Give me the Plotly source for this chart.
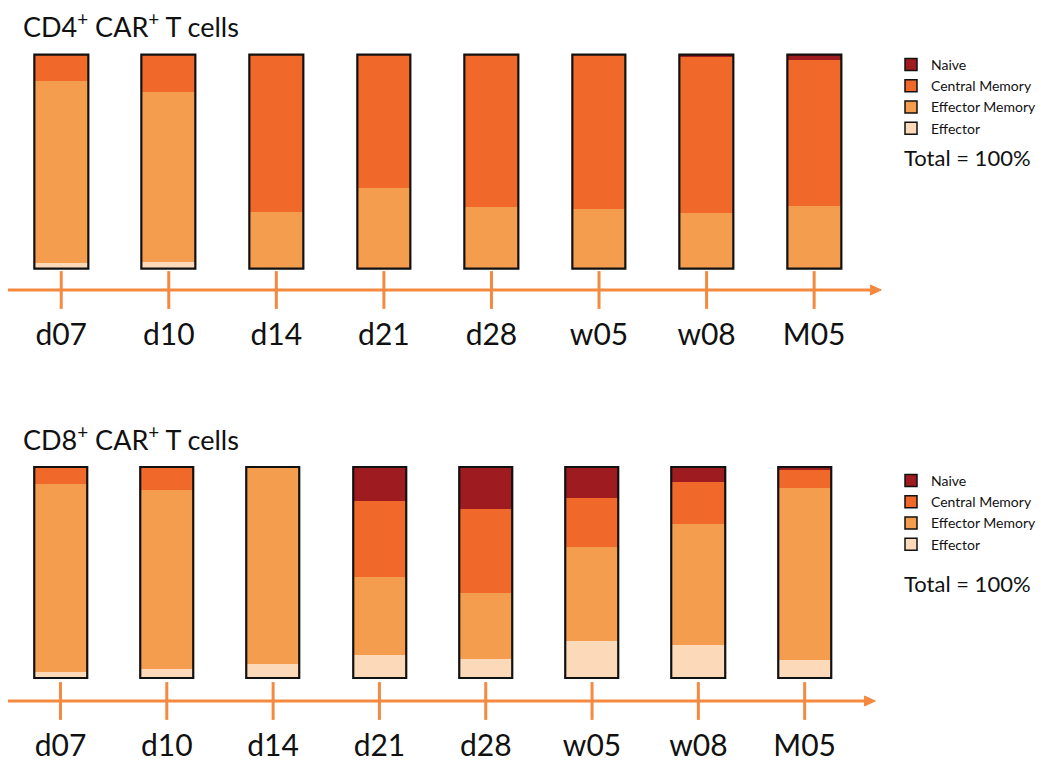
import numpy as np
import plotly.graph_objects as go

# ---------------- data ----------------
timepoints = ["d07", "d10", "d14", "d21", "d28", "w05", "w08", "M05"]
subsets = ["Naive", "Central Memory", "Effector Memory", "Effector"]

cd4_naive = [0, 0, 0, 0, 0, 0, 0.5, 2]
cd4_cm = [12, 17, 73.5, 62, 71, 72, 73.5, 68.5]
cd4_em = [85, 79.5, 26.5, 38, 29, 28, 26, 29.5]
cd4_eff = [3, 3.5, 0, 0, 0, 0, 0, 0]

cd8_naive = [0, 0, 0, 16, 20, 14.5, 7, 1.5]
cd8_cm = [8, 11, 0, 36, 39.5, 23.5, 20, 8.5]
cd8_em = [89, 84.5, 93, 37, 31.5, 44.5, 57, 81.5]
cd8_eff = [3, 4.5, 7, 11, 9, 17.5, 16, 8.5]

titles = ["CD4<sup>+</sup> CAR<sup>+</sup> T cells", "CD8<sup>+</sup> CAR<sup>+</sup> T cells"]
total_label = "Total = 100%"

# ---------------- style ----------------
colors = {
    "Naive": "#9E1B20",
    "Central Memory": "#F0692A",
    "Effector Memory": "#F59D4E",
    "Effector": "#FCD9B8",
}
axis_orange = "#F4893F"
FONT = "Lato"
W, H = 1041, 761


def py(px):
    return 1 - px / H


def pxx(px):
    return px / W


fig = go.Figure()

panels = [
    dict(vals={"Naive": cd4_naive, "Central Memory": cd4_cm, "Effector Memory": cd4_em, "Effector": cd4_eff},
         xa="x", ya="y", xa_ax="x3", ya_ax="y3", legend="legend"),
    dict(vals={"Naive": cd8_naive, "Central Memory": cd8_cm, "Effector Memory": cd8_em, "Effector": cd8_eff},
         xa="x2", ya="y2", xa_ax="x4", ya_ax="y4", legend="legend2"),
]

stack_order = ["Effector", "Effector Memory", "Central Memory", "Naive"]  # bottom to top

for p in panels:
    base = np.zeros(len(timepoints))
    for s in stack_order:
        v = np.array(p["vals"][s], dtype=float)
        fig.add_trace(go.Bar(
            x=timepoints, y=v, base=base, name=s, width=0.5,
            marker=dict(color=colors[s], line=dict(width=0)),
            xaxis=p["xa"], yaxis=p["ya"], showlegend=False, hoverinfo="skip",
        ))
        base = base + v
    # outline of whole stacked bar
    fig.add_trace(go.Bar(
        x=timepoints, y=base, base=np.zeros(len(timepoints)), width=0.5,
        marker=dict(color="rgba(0,0,0,0)", line=dict(color="#111111", width=2.2)),
        xaxis=p["xa"], yaxis=p["ya"], showlegend=False, hoverinfo="skip",
    ))
    # legend entries
    for s in subsets:
        fig.add_trace(go.Bar(
            x=[None], y=[None], name=s,
            marker=dict(color=colors[s], line=dict(color="#111111", width=1.5)),
            xaxis=p["xa"], yaxis=p["ya"], legend=p["legend"], showlegend=True,
        ))
    # timeline tick marks
    fig.add_trace(go.Scatter(
        x=timepoints, y=[0] * len(timepoints), mode="markers",
        marker=dict(symbol="line-ns", size=27, line=dict(color=axis_orange, width=3)),
        xaxis=p["xa_ax"], yaxis=p["ya_ax"], showlegend=False, hoverinfo="skip", cliponaxis=False,
    ))

# layout geometry (pixels)
top = dict(x0=7.5, x1=875.5, ytop=50.7, ybot=273.0, ax0=276, ax1=304, line=290, lstart=8, tip=889)
bot = dict(x0=7.4, x1=865.3, ytop=463.1, ybot=682.7, ax0=687, ax1=715, line=701, lstart=8, tip=883)

cat_axis = dict(type="category", categoryarray=timepoints, range=[-0.5, 7.5],
                showgrid=False, zeroline=False, showline=False, fixedrange=True)


def bar_x(g, anchor):
    d = dict(cat_axis)
    d.update(domain=[pxx(g["x0"]), pxx(g["x1"])], anchor=anchor, visible=False)
    return d


def bar_y(g, anchor):
    return dict(range=[-2, 102], domain=[py(g["ybot"]), py(g["ytop"])], anchor=anchor,
                visible=False, fixedrange=True)


def ax_x(g, anchor):
    d = dict(cat_axis)
    d.update(domain=[pxx(g["x0"]), pxx(g["x1"])], anchor=anchor, showticklabels=True, ticks="",
             tickfont=dict(family=FONT, size=30, color="#111111"), ticklabelstandoff=10)
    return d


def ax_y(g, anchor):
    return dict(range=[-1, 1], domain=[py(g["ax1"]), py(g["ax0"])], anchor=anchor,
                visible=False, fixedrange=True)


annotations = []
shapes = []
for g, title, ty in [(top, titles[0], 25), (bot, titles[1], 438)]:
    annotations.append(dict(text=title, xref="paper", yref="paper", x=pxx(21), y=py(ty),
                            xanchor="left", yanchor="middle", showarrow=False,
                            font=dict(family=FONT, size=27, color="#111111")))
    # timeline line + arrowhead
    shapes.append(dict(type="line", xref="paper", yref="paper",
                       x0=pxx(g["lstart"]), x1=pxx(g["tip"] - 8), y0=py(g["line"]), y1=py(g["line"]),
                       line=dict(color=axis_orange, width=3), layer="below"))
    hx, tx = pxx(g["tip"] - 11), pxx(g["tip"])
    shapes.append(dict(type="path", xref="paper", yref="paper",
                       path=f"M {hx},{py(g['line'] - 5)} L {tx},{py(g['line'])} L {hx},{py(g['line'] + 5)} Z",
                       fillcolor=axis_orange, line=dict(color=axis_orange, width=1), layer="below"))

for ty in (157, 583):
    annotations.append(dict(text=total_label, xref="paper", yref="paper", x=pxx(910), y=py(ty),
                            xanchor="left", yanchor="middle", showarrow=False,
                            font=dict(family=FONT, size=22, color="#111111")))

legend_style = dict(xanchor="left", yanchor="top", font=dict(family=FONT, size=14, color="#111111"),
                    bgcolor="rgba(0,0,0,0)", traceorder="normal", itemclick=False, itemdoubleclick=False,
                    borderwidth=0)

fig.update_layout(
    width=W, height=H, margin=dict(l=0, r=0, t=0, b=0),
    paper_bgcolor="white", plot_bgcolor="rgba(0,0,0,0)",
    barmode="overlay", bargap=0,
    font=dict(family=FONT, color="#111111"),
    xaxis=bar_x(top, "y"), yaxis=bar_y(top, "x"),
    xaxis2=bar_x(bot, "y2"), yaxis2=bar_y(bot, "x2"),
    xaxis3=ax_x(top, "y3"), yaxis3=ax_y(top, "x3"),
    xaxis4=ax_x(bot, "y4"), yaxis4=ax_y(bot, "x4"),
    legend=dict(x=pxx(899), y=py(49), **legend_style),
    legend2=dict(x=pxx(899), y=py(465), **legend_style),
    annotations=annotations,
    shapes=shapes,
    showlegend=True,
)

fig.write_html("out.html", config={"displayModeBar": False},
               post_script="document.body.style.margin='0';document.body.style.padding='0';"
                           "document.body.style.overflow='hidden';")
